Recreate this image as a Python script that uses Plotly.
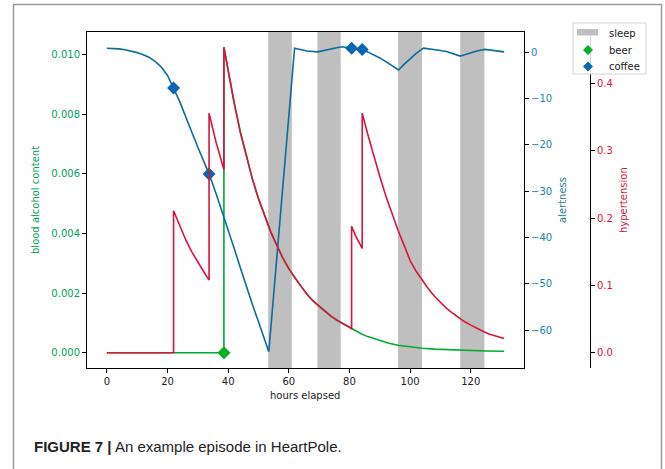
import plotly.graph_objects as go

W, H = 665, 469

# ---------------- data ----------------
sleep_start = [53.2, 69.4, 96.0, 116.5]
sleep_end = [61.0, 77.1, 103.9, 124.5]

alert_hours = [0, 2, 4, 6, 8, 10, 12, 14, 16, 18, 20, 22, 24, 26, 28, 30, 32, 33.7, 36, 38,
               40, 42, 44, 46, 48, 50, 52, 53.4, 61.9, 64, 66, 69.5, 72, 75, 77.5, 80.7, 82,
               84.2, 86, 88, 90, 92, 94, 96.2, 98, 100, 102, 104.4, 106, 108, 110, 112, 114,
               116.5, 118, 120, 122, 124.7, 127, 129, 131]
alertness = [0.9, 0.85, 0.75, 0.55, 0.3, -0.05, -0.5, -1.1, -2.0, -3.2, -5.0, -7.7, -10.6,
             -13.9, -17.3, -20.5, -23.6, -26.3, -30.5, -34.3, -38.3, -42.4, -46.5, -50.6,
             -54.5, -58.2, -61.9, -64.7, 0.9, 0.6, 0.3, 0.1, 0.5, 0.9, 1.2, 0.9, 0.8, 0.6,
             0.1, -0.5, -1.2, -2.0, -2.9, -3.8, -2.6, -1.3, -0.2, 0.9, 0.8, 0.6, 0.4, 0.2,
             -0.2, -0.8, -0.5, -0.1, 0.3, 0.65, 0.5, 0.3, 0.1]

hyp_hours = [0, 22, 22, 24, 26, 28, 30, 32, 33.7, 33.7, 36, 38, 38.6, 38.6, 40, 42, 44, 46,
             48, 50, 52, 54, 56, 58, 60, 62, 64, 66, 68, 70, 72, 74, 76, 78, 80.7, 80.7, 82,
             84.2, 84.2, 86, 88, 90, 92, 94, 96, 98, 100, 102, 104, 106, 108, 110, 112, 114,
             116, 118, 120, 122, 124, 126, 128, 130, 131]
hypertension = [0, 0, 0.211, 0.188, 0.168, 0.150, 0.134, 0.120, 0.108, 0.356, 0.313, 0.281,
                0.272, 0.454, 0.418, 0.371, 0.328, 0.291, 0.258, 0.229, 0.203, 0.180, 0.160,
                0.141, 0.125, 0.111, 0.099, 0.087, 0.077, 0.069, 0.061, 0.054, 0.048, 0.043,
                0.036, 0.188, 0.174, 0.155, 0.356, 0.325, 0.292, 0.262, 0.233, 0.206, 0.182,
                0.160, 0.137, 0.121, 0.107, 0.095, 0.084, 0.075, 0.066, 0.059, 0.052, 0.046,
                0.041, 0.036, 0.032, 0.028, 0.025, 0.022, 0.021]

bac_hours = [0, 38.6, 38.6, 40, 42, 44, 46, 48, 50, 52, 54, 56, 58, 60, 62, 64, 66, 68, 70,
             72, 74, 76, 78, 80.7, 82, 84, 86, 88, 90, 93, 96, 100, 104, 108, 112, 116, 120,
             125, 131]
bac = [0, 0, 0.01024, 0.00943, 0.00837, 0.00740, 0.00656, 0.00582, 0.00516, 0.00458,
       0.00406, 0.00361, 0.00318, 0.00282, 0.00250, 0.00223, 0.00196, 0.00174, 0.00156,
       0.00138, 0.00122, 0.00108, 0.00097, 0.00081, 0.00073, 0.00063, 0.00054, 0.00047,
       0.00040, 0.00032, 0.00025, 0.00019, 0.00015, 0.00012, 0.00010, 0.00008, 0.00007,
       0.00006, 0.00005]

beer_hours = [38.6]
beer_bac = [0.0]
coffee_hours = [22, 33.7, 80.7, 84.2]
coffee_alert = [-7.7, -26.3, 0.9, 0.6]

x_ticks = [0, 20, 40, 60, 80, 100, 120]
bac_ticks = [0.0, 0.002, 0.004, 0.006, 0.008, 0.010]
alert_ticks = [-60, -50, -40, -30, -20, -10, 0]
hyp_ticks = [0.0, 0.1, 0.2, 0.3, 0.4]

legend_labels = ["sleep", "beer", "coffee"]

# ---------------- style ----------------
GREEN = "#00aa33"
GREEN_T = "#00a35e"
BLUE = "#0a6c9f"
BLUE_T = "#1a7fa8"
RED = "#dc143c"
GRAY = "#bfbfbf"
BEER_C = "#00b020"
COFFEE_C = "#0a66b0"
FONT = "DejaVu Sans"

# plot area in pixels
PL, PR, PT, PB = 87, 524, 32, 368
dx = [PL / W, PR / W]
dy = [(H - PB) / H, (H - PT) / H]

def px(x):
    return x / W

def py(y):
    return 1 - y / H

fig = go.Figure()

fig.add_trace(go.Scatter(x=bac_hours, y=bac, mode="lines", yaxis="y",
                         line=dict(color=GREEN, width=1.6)))
fig.add_trace(go.Scatter(x=alert_hours, y=alertness, mode="lines", yaxis="y2",
                         line=dict(color=BLUE, width=1.6)))
fig.add_trace(go.Scatter(x=hyp_hours, y=hypertension, mode="lines", yaxis="y3",
                         line=dict(color=RED, width=1.6)))
fig.add_trace(go.Scatter(x=beer_hours, y=beer_bac, mode="markers", yaxis="y", name="beer",
                         marker=dict(symbol="diamond", size=10, color=BEER_C)))
fig.add_trace(go.Scatter(x=coffee_hours, y=coffee_alert, mode="markers", yaxis="y2",
                         name="coffee",
                         marker=dict(symbol="diamond", size=10, color=COFFEE_C)))

shapes = []
for s, e in zip(sleep_start, sleep_end):
    shapes.append(dict(type="rect", xref="x", yref="y domain", x0=s, x1=e, y0=0, y1=1,
                       fillcolor=GRAY, line=dict(width=0), layer="below"))
# outer figure frame
shapes.append(dict(type="rect", xref="paper", yref="paper", x0=px(13.5), x1=px(661.5),
                   y0=-0.2, y1=py(4.5), line=dict(color="#9a9a9a", width=1.5),
                   fillcolor="rgba(0,0,0,0)", layer="below"))

# hand-drawn legend (matplotlib style, compact)
LX0, LX1, LY0, LY1 = 573, 646, 23, 74
shapes.append(dict(type="rect", xref="paper", yref="paper", x0=px(LX0), x1=px(LX1),
                   y0=py(LY1), y1=py(LY0), line=dict(color="#d3d3d3", width=1),
                   fillcolor="rgba(255,255,255,0.85)", layer="above"))
shapes.append(dict(type="rect", xref="paper", yref="paper", x0=px(577), x1=px(598),
                   y0=py(35.5), y1=py(29), line=dict(width=0), fillcolor=GRAY,
                   layer="above"))
def diamond(cx, cy, r, color):
    path = (f"M {px(cx - r)} {py(cy)} L {px(cx)} {py(cy - r)} "
            f"L {px(cx + r)} {py(cy)} L {px(cx)} {py(cy + r)} Z")
    return dict(type="path", xref="paper", yref="paper", path=path, fillcolor=color,
                line=dict(width=0), layer="above")
shapes.append(diamond(588, 50, 5, BEER_C))
shapes.append(diamond(588, 66.5, 5, COFFEE_C))

tickfont = lambda c: dict(family=FONT, size=10, color=c)

def ann(text, x, y, color, angle=0, xanchor="center", size=10, family=FONT):
    return dict(text=text, xref="paper", yref="paper", x=px(x), y=py(y),
                xanchor=xanchor, yanchor="middle", textangle=angle, showarrow=False,
                font=dict(family=family, size=size, color=color))

annotations = [
    ann("blood alcohol content", 35, 200, GREEN_T, angle=-90),
    ann("alertness", 562, 200, BLUE_T, angle=-90),
    ann("hypertension", 623, 200, RED, angle=-90),
    ann("hours elapsed", 305, 395, "#222"),
    ann("<b>FIGURE 7 |</b> An example episode in HeartPole.", 32, 446, "#222",
        xanchor="left", size=15, family="Liberation Sans"),
]
for lab, ly in zip(legend_labels, [33, 50, 66.5]):
    annotations.append(ann(lab, 607, ly, "#222", xanchor="left"))

fig.update_layout(
    width=W, height=H,
    margin=dict(l=0, r=0, t=0, b=0),
    paper_bgcolor="white", plot_bgcolor="white",
    showlegend=False,
    shapes=shapes,
    annotations=annotations,
    xaxis=dict(domain=dx, range=[-6.55, 137.55], tickvals=x_ticks,
               tickfont=tickfont("#222"), ticks="outside", ticklen=4,
               tickcolor="black", showline=True, linecolor="black", linewidth=1,
               mirror=True, showgrid=False, zeroline=False),
    yaxis=dict(domain=dy, range=[-0.000512, 0.010752], tickvals=bac_ticks,
               tickformat=".3f", tickfont=tickfont(GREEN_T), ticks="outside", ticklen=4,
               tickcolor="black", showline=True, linecolor="black", linewidth=1,
               showgrid=False, zeroline=False),
    yaxis2=dict(overlaying="y", side="right", anchor="x", range=[-68.2, 4.4],
                tickvals=alert_ticks, tickfont=tickfont(BLUE_T), ticks="outside",
                ticklen=4, tickcolor="black", showline=True, linecolor="black",
                linewidth=1, showgrid=False, zeroline=False),
    yaxis3=dict(overlaying="y", side="right", anchor="free", position=px(590),
                range=[-0.0227, 0.4767], tickvals=hyp_ticks, tickformat=".1f",
                tickfont=tickfont(RED), ticks="outside", ticklen=4, tickcolor="black",
                showline=True, linecolor="black", linewidth=1, showgrid=False,
                zeroline=False),
)

fig.write_html("out.html", config={"displayModeBar": False},
               post_script="document.body.style.margin='0';")
